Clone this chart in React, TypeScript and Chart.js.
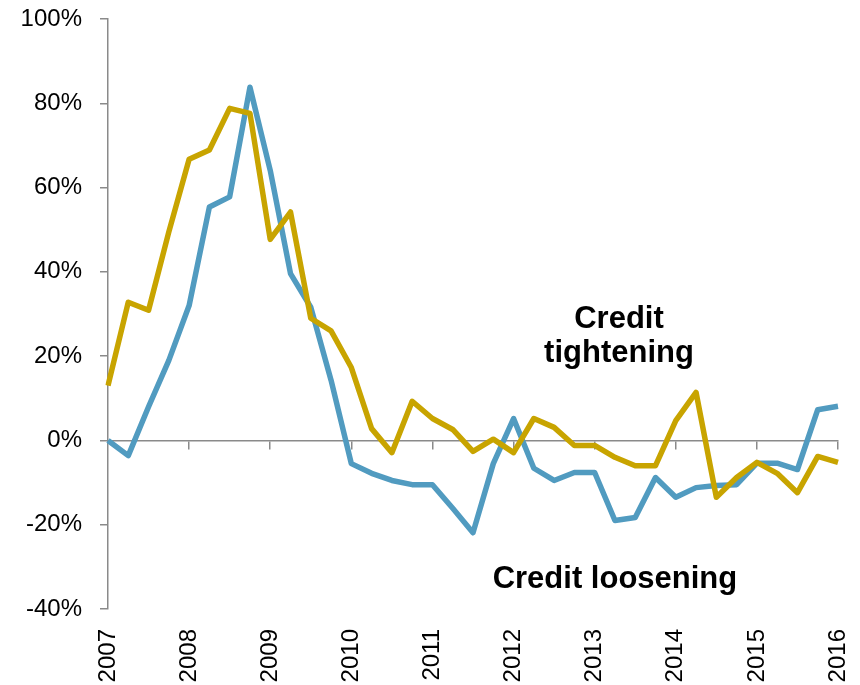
import React, { useEffect, useRef } from 'react';
import { Chart, registerables } from 'chart.js';

Chart.register(...registerables);

// Years shown on the time axis (one quarterly point per quarter, 2007 Q1 .. 2016 Q1)
const years = ['2007', '2008', '2009', '2010', '2011', '2012', '2013', '2014', '2015', '2016'];

// Gold series (net % of lenders), quarterly
const goldSeries = [
  13, 32.8, 30.9, 49.5, 66.7, 68.9, 78.8, 77.6,
  47.7, 54.2, 29, 26, 17.3, 2.8, -2.9, 9.3,
  5.2, 2.6, -2.6, 0.3, -2.9, 5.2, 3.1, -1.2,
  -1.2, -4, -6, -6, 4.7, 11.4, -13.5, -8.8,
  -5.2, -7.8, -12.4, -3.8, -5.2,
];

// Blue series (net % of lenders), quarterly
const blueSeries = [
  0, -3.6, 8, 19, 32, 55.4, 57.8, 83.8,
  64.1, 39.6, 31.6, 14.3, -5.5, -7.8, -9.5, -10.5,
  -10.5, -16.1, -21.9, -5.5, 5.2, -6.6, -9.5, -7.6,
  -7.6, -19, -18.3, -8.8, -13.5, -11.2, -10.7, -10.5,
  -5.4, -5.4, -6.9, 7.3, 8.1,
];

const yTicks = { min: -40, max: 100, step: 20 };

// Text annotations: [text, x (quarter index), y (value at baseline)]
const annotations: [string, number, number][] = [
  ['Credit', 25.2, 26.6],
  ['tightening', 25.2, 18.5],
  ['Credit loosening', 25.0, -34.9],
];

const quarterLabels: string[] = [];
for (let i = 0; i < goldSeries.length; i++) {
  quarterLabels.push(i % 4 === 0 ? years[i / 4] : '');
}

const FONT = '"Liberation Sans", Arial, sans-serif';
const GREY = '#8a8a8a';

const annotationPlugin = {
  id: 'textAnnotations',
  afterDatasetsDraw(chart: any) {
    const { ctx, scales } = chart;
    ctx.save();
    ctx.fillStyle = '#000';
    ctx.font = `bold 31px ${FONT}`;
    ctx.textAlign = 'center';
    ctx.textBaseline = 'alphabetic';
    for (const [text, xi, yv] of annotations) {
      ctx.fillText(text, scales.x.getPixelForValue(xi), scales.y.getPixelForValue(yv));
    }
    ctx.restore();
  },
};

export default function App() {
  const canvasRef = useRef<HTMLCanvasElement | null>(null);

  useEffect(() => {
    document.body.style.margin = '0';
    const canvas = canvasRef.current;
    if (!canvas) return;
    const chart = new Chart(canvas, {
      type: 'line',
      data: {
        labels: quarterLabels,
        datasets: [
          {
            label: 'Gold',
            data: goldSeries,
            borderColor: '#c8a400',
            borderWidth: 5.5,
            pointRadius: 0,
            tension: 0,
            borderJoinStyle: 'round',
            xAxisID: 'x',
          },
          {
            label: 'Blue',
            data: blueSeries,
            borderColor: '#519bc0',
            borderWidth: 5.5,
            pointRadius: 0,
            tension: 0,
            borderJoinStyle: 'round',
            xAxisID: 'x',
          },
        ],
      },
      options: {
        responsive: false,
        animation: false,
        layout: { padding: { top: 19, right: 22, left: 0, bottom: 0 } },
        plugins: {
          legend: { display: false },
          tooltip: { enabled: false },
        },
        scales: {
          x: {
            type: 'category',
            position: 'bottom',
            offset: false,
            grid: { display: false },
            border: { display: false },
            ticks: {
              autoSkip: false,
              maxRotation: 90,
              minRotation: 90,
              padding: 12,
              color: '#000',
              font: { family: FONT, size: 24 },
            },
            afterFit(scale: any) {
              scale.height = 76;
              scale.paddingLeft = 0;
              scale.paddingRight = 0;
            },
          },
          x0: {
            type: 'category',
            position: { y: 0 },
            offset: false,
            labels: quarterLabels,
            ticks: { display: false, autoSkip: false },
            grid: {
              display: true,
              drawOnChartArea: false,
              drawTicks: true,
              tickLength: 8,
              lineWidth: 1.5,
              color: (ctx: any) => (ctx.index % 4 === 0 && ctx.index > 0 ? GREY : 'rgba(0,0,0,0)'),
            },
            border: { display: true, color: GREY, width: 1.5 },
            afterFit(scale: any) {
              scale.paddingLeft = 0;
              scale.paddingRight = 0;
            },
          },
          y: {
            type: 'linear',
            min: yTicks.min,
            max: yTicks.max,
            grid: {
              display: true,
              drawOnChartArea: false,
              drawTicks: true,
              tickLength: 8,
              lineWidth: 1.5,
              color: GREY,
            },
            border: { display: true, color: GREY, width: 1.5 },
            ticks: {
              stepSize: yTicks.step,
              padding: 18,
              color: '#000',
              font: { family: FONT, size: 24 },
              callback: (v: any) => `${v}%`,
            },
            afterFit(scale: any) {
              scale.width = 108;
              scale.paddingTop = 0;
              scale.paddingBottom = 0;
            },
          },
        },
      },
      plugins: [annotationPlugin],
    });
    return () => chart.destroy();
  }, []);

  return (
    <div style={{ width: 860, height: 685 }}>
      <canvas ref={canvasRef} width={860} height={685} style={{ display: 'block' }} />
    </div>
  );
}
